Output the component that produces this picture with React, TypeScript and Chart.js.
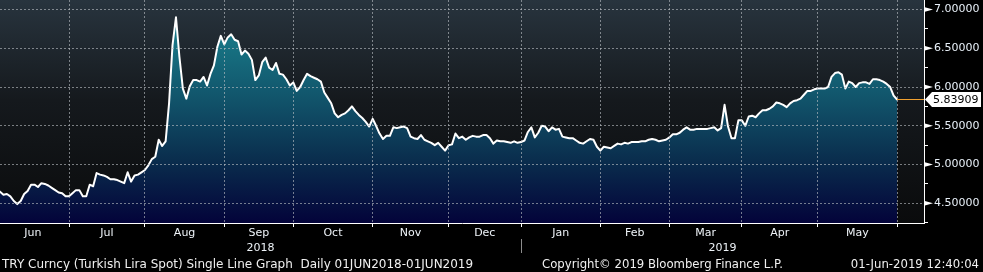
import React, { useEffect, useRef } from 'react';
import { Chart, registerables } from 'chart.js';

Chart.register(...registerables);

// USD/TRY daily (business days) Jun 2018 - May 2019
const jun18 = [4.65, 4.61, 4.62, 4.59, 4.53, 4.49, 4.53, 4.62, 4.66, 4.74, 4.74, 4.71, 4.76, 4.75, 4.73, 4.70, 4.67, 4.64, 4.63, 4.59, 4.59];
const jul18 = [4.63, 4.67, 4.67, 4.59, 4.59, 4.74, 4.72, 4.89, 4.87, 4.86, 4.84, 4.81, 4.81, 4.80, 4.78, 4.76, 4.90, 4.78, 4.86, 4.87, 4.90, 4.93];
const aug18 = [4.99, 5.07, 5.10, 5.32, 5.24, 5.30, 5.79, 6.54, 6.90, 6.39, 5.98, 5.85, 6.01, 6.09, 6.09, 6.07, 6.13, 6.02, 6.17, 6.28, 6.52, 6.66, 6.55];
const sep18 = [6.64, 6.68, 6.61, 6.59, 6.42, 6.47, 6.43, 6.35, 6.09, 6.15, 6.32, 6.38, 6.25, 6.22, 6.31, 6.17, 6.16, 6.10, 6.02, 6.06];
const oct18 = [5.95, 6.00, 6.09, 6.17, 6.14, 6.12, 6.10, 6.07, 5.93, 5.86, 5.79, 5.66, 5.61, 5.64, 5.66, 5.70, 5.75, 5.69, 5.64, 5.60, 5.55, 5.49, 5.59];
const nov18 = [5.50, 5.40, 5.33, 5.37, 5.37, 5.48, 5.47, 5.48, 5.49, 5.47, 5.36, 5.34, 5.33, 5.38, 5.32, 5.30, 5.28, 5.25, 5.28, 5.23, 5.18, 5.25];
const dec18 = [5.26, 5.40, 5.34, 5.36, 5.32, 5.35, 5.37, 5.36, 5.36, 5.38, 5.38, 5.34, 5.27, 5.31, 5.30, 5.30, 5.29, 5.28, 5.30, 5.28, 5.29];
const jan19 = [5.31, 5.42, 5.48, 5.35, 5.41, 5.50, 5.49, 5.43, 5.48, 5.45, 5.46, 5.36, 5.35, 5.34, 5.34, 5.31, 5.28, 5.27, 5.30, 5.33, 5.32, 5.23, 5.18];
const feb19 = [5.23, 5.22, 5.21, 5.24, 5.27, 5.26, 5.28, 5.27, 5.29, 5.29, 5.29, 5.30, 5.30, 5.32, 5.33, 5.32, 5.30, 5.31, 5.32, 5.35];
const mar19 = [5.39, 5.39, 5.41, 5.45, 5.48, 5.45, 5.45, 5.46, 5.46, 5.46, 5.46, 5.47, 5.48, 5.44, 5.47, 5.77, 5.49, 5.34, 5.34, 5.57, 5.57];
const apr19 = [5.50, 5.62, 5.63, 5.61, 5.66, 5.70, 5.70, 5.72, 5.75, 5.80, 5.79, 5.77, 5.74, 5.79, 5.82, 5.83, 5.85, 5.90, 5.95, 5.95, 5.97, 5.98];
const may19 = [5.98, 5.98, 6.00, 6.13, 6.18, 6.19, 6.16, 5.98, 6.07, 6.05, 6.00, 6.05, 6.06, 6.06, 6.04, 6.10, 6.10, 6.09, 6.07, 6.04, 6.00, 5.89, 5.83909];

const monthSeries = [jun18, jul18, aug18, sep18, oct18, nov18, dec18, jan19, feb19, mar19, apr19, may19];
const monthNames = ['Jun', 'Jul', 'Aug', 'Sep', 'Oct', 'Nov', 'Dec', 'Jan', 'Feb', 'Mar', 'Apr', 'May'];
const yearLabels = ['2018', '2019'];
const yearStartMonth = [0, 7];
const yTickValues = [4.25, 4.5, 4.75, 5.0, 5.25, 5.5, 5.75, 6.0, 6.25, 6.5, 6.75, 7.0];
const lastValue = 5.83909;
const footerLeft = 'TRY Curncy (Turkish Lira Spot) Single Line Graph  Daily 01JUN2018-01JUN2019';
const footerMid = 'Copyright\u00A9 2019 Bloomberg Finance L.P.';
const footerRight = '01-Jun-2019 12:40:04';

const values: number[] = ([] as number[]).concat(...monthSeries);
const points = values.map((v, i) => ({ x: i, y: v }));
// index of the last business day of each month
const monthEnds: number[] = [];
{
  let acc = -1;
  monthSeries.forEach((m) => { acc += m.length; monthEnds.push(acc); });
}
const monthCenters = monthEnds.map((e, k) => ((k === 0 ? -1 : monthEnds[k - 1]) + e) / 2);
const centerLabel = new Map<number, string>();
monthCenters.forEach((c, k) => centerLabel.set(c, monthNames[k]));
const boundarySet = new Set<number>(monthEnds);
const xTicks = [...monthEnds, ...monthCenters].sort((a, b) => a - b);

const FONT = 'DejaVu Sans';
const GRID = 'rgba(185,190,195,0.62)';
const TRANSP = 'rgba(0,0,0,0)';
const isMajor = (v: number) => Math.abs(v * 2 - Math.round(v * 2)) < 1e-6;

const decorPlugin = {
  id: 'decor',
  beforeDraw(chart: any) {
    const { ctx, chartArea: a, width, height } = chart;
    ctx.save();
    ctx.fillStyle = '#000000';
    ctx.fillRect(0, 0, width, height);
    const g = ctx.createLinearGradient(0, a.top, 0, a.bottom);
    g.addColorStop(0, '#28343e');
    g.addColorStop(0.45, '#15191d');
    g.addColorStop(1, '#0a0b0c');
    ctx.fillStyle = g;
    ctx.fillRect(a.left, a.top, a.right - a.left, a.bottom - a.top);
    ctx.restore();
  },
  afterDraw(chart: any) {
    const { ctx, chartArea: a } = chart;
    const xs = chart.scales.x;
    const ys = chart.scales.y;
    ctx.save();
    // major tick pointers on the value axis
    ctx.fillStyle = '#ffffff';
    yTickValues.filter((v) => isMajor(v)).forEach((v) => {
      const y = ys.getPixelForValue(v);
      ctx.beginPath();
      ctx.moveTo(a.right, y - 2.5);
      ctx.lineTo(a.right + 9, y);
      ctx.lineTo(a.right, y + 2.5);
      ctx.closePath();
      ctx.fill();
    });
    // last value line + tag
    const ly = Math.round(ys.getPixelForValue(lastValue)) + 0.5;
    const lx = xs.getPixelForValue(values.length - 1);
    ctx.strokeStyle = '#f0a030';
    ctx.lineWidth = 1;
    ctx.beginPath();
    ctx.moveTo(lx, ly);
    ctx.lineTo(a.right, ly);
    ctx.stroke();
    ctx.fillStyle = '#ffffff';
    ctx.beginPath();
    ctx.moveTo(a.right + 1, ly);
    ctx.lineTo(a.right + 8, ly - 7.5);
    ctx.lineTo(a.right + 57, ly - 7.5);
    ctx.lineTo(a.right + 57, ly + 7.5);
    ctx.lineTo(a.right + 8, ly + 7.5);
    ctx.closePath();
    ctx.fill();
    ctx.fillStyle = '#000000';
    ctx.font = `11px "${FONT}"`;
    ctx.textBaseline = 'middle';
    ctx.textAlign = 'left';
    ctx.fillText(lastValue.toFixed(5), a.right + 9, ly + 0.5);

    // year labels and separator
    ctx.fillStyle = '#eef3f8';
    ctx.textAlign = 'center';
    ctx.textBaseline = 'alphabetic';
    yearLabels.forEach((lab, k) => {
      const startM = yearStartMonth[k];
      const nextM = yearStartMonth[k + 1];
      const x0 = startM === 0 ? xs.getPixelForValue(xs.min) : xs.getPixelForValue(monthEnds[startM - 1]);
      const x1 = nextM === undefined ? a.right : xs.getPixelForValue(monthEnds[nextM - 1]);
      ctx.fillText(lab, (x0 + x1) / 2, 251);
    });
    yearStartMonth.slice(1).forEach((m) => {
      const x = Math.round(xs.getPixelForValue(monthEnds[m - 1])) + 0.5;
      ctx.strokeStyle = '#8c8c8c';
      ctx.beginPath();
      ctx.moveTo(x, 239);
      ctx.lineTo(x, 253);
      ctx.stroke();
    });

    // footer
    ctx.fillStyle = '#f0f0f0';
    ctx.textAlign = 'left';
    ctx.font = `12px "${FONT}"`;
    ctx.fillText(footerLeft, 2, 268);
    ctx.font = `11.7px "${FONT}"`;
    ctx.fillText(footerMid, 542, 268);
    ctx.textAlign = 'right';
    ctx.fillText(footerRight, 979, 268);
    ctx.restore();
  },
};

export default function App() {
  const ref = useRef<HTMLCanvasElement>(null);
  useEffect(() => {
    document.body.style.margin = '0';
    document.body.style.background = '#000';
    const canvas = ref.current as HTMLCanvasElement;
    const chart = new Chart(canvas, {
      type: 'line',
      data: {
        datasets: [
          {
            data: points,
            borderColor: '#ffffff',
            borderWidth: 2,
            borderJoinStyle: 'round',
            borderCapStyle: 'round',
            pointRadius: 0,
            tension: 0,
            fill: 'start',
            backgroundColor: (c: any) => {
              const a = c.chart.chartArea;
              if (!a) return '#104060';
              const g = c.chart.ctx.createLinearGradient(0, a.top, 0, a.bottom);
              g.addColorStop(0, '#1b8395');
              g.addColorStop(0.2, '#177282');
              g.addColorStop(0.45, '#11536a');
              g.addColorStop(0.72, '#0a2d4d');
              g.addColorStop(1, '#03033a');
              return g;
            },
          },
        ],
      },
      options: {
        responsive: false,
        maintainAspectRatio: false,
        animation: false,
        devicePixelRatio: 1,
        layout: { padding: 0 },
        plugins: { legend: { display: false }, tooltip: { enabled: false } },
        scales: {
          x: {
            type: 'linear',
            min: 0,
            max: 267.8,
            afterBuildTicks: (s: any) => { s.ticks = xTicks.map((v) => ({ value: v })); },
            afterFit: (s: any) => { s.height = 49; s.paddingLeft = 0; s.paddingRight = 0; },
            ticks: {
              autoSkip: false,
              maxRotation: 0,
              minRotation: 0,
              padding: 0,
              color: '#eef3f8',
              font: { family: FONT, size: 11 },
              callback: (v: any) => centerLabel.get(v) ?? '',
            },
            grid: {
              z: 1,
              color: (c: any) => (c.tick && boundarySet.has(c.tick.value) ? GRID : TRANSP),
              tickColor: (c: any) => (c.tick && boundarySet.has(c.tick.value) ? '#ffffff' : TRANSP),
              tickLength: 4,
              lineWidth: 1,
            },
            border: { display: true, color: '#ffffff', width: 1, dash: [2, 2], z: 1 },
          },
          y: {
            type: 'linear',
            position: 'right',
            min: 4.246,
            max: 7.1225,
            afterBuildTicks: (s: any) => { s.ticks = yTickValues.map((v) => ({ value: v })); },
            afterFit: (s: any) => { s.width = 59; s.paddingTop = 0; s.paddingBottom = 0; },
            ticks: {
              padding: 6,
              color: '#e8f0f8',
              font: { family: FONT, size: 11 },
              callback: (v: any) => (isMajor(v) ? Number(v).toFixed(5) : ''),
            },
            grid: {
              z: 1,
              color: (c: any) => (c.tick && isMajor(c.tick.value) ? GRID : TRANSP),
              tickColor: (c: any) => (c.tick && !isMajor(c.tick.value) ? '#ffffff' : TRANSP),
              tickLength: 4,
              lineWidth: 1,
            },
            border: { display: true, color: '#ffffff', width: 1, dash: [2, 2], z: 1 },
          },
        },
      },
      plugins: [decorPlugin],
    } as any);
    return () => chart.destroy();
  }, []);
  return <canvas ref={ref} width={983} height={272} style={{ display: 'block', width: 983, height: 272 }} />;
}
